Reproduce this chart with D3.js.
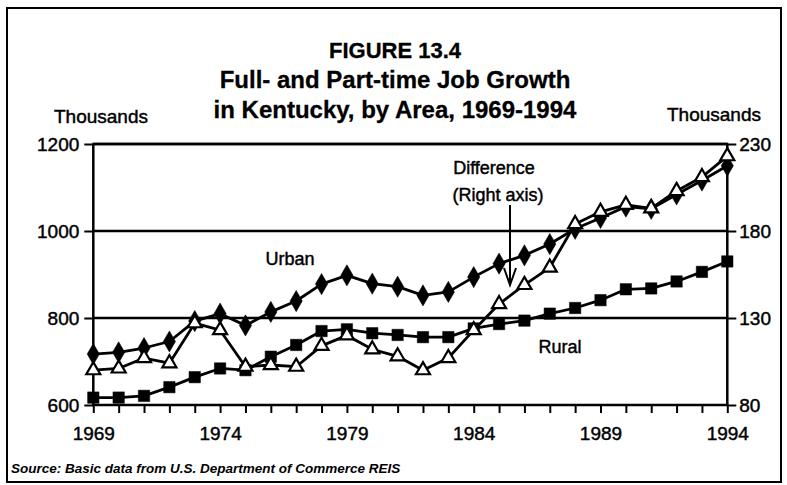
<!DOCTYPE html>
<html>
<head>
<meta charset="utf-8">
<script src="https://cdn.jsdelivr.net/npm/d3@7"></script>
<style>
  html, body { margin: 0; padding: 0; background: #fff; }
  svg { display: block; }
  text { font-family: "Liberation Sans", Arial, Helvetica, sans-serif; fill: #000; }
</style>
</head>
<body>
<svg id="chart" width="787" height="485"></svg>
<script>
// ---- Data ----
const years = [1969,1970,1971,1972,1973,1974,1975,1976,1977,1978,1979,1980,1981,
               1982,1983,1984,1985,1986,1987,1988,1989,1990,1991,1992,1993,1994];
const urban = [717,721,731,746,793,810,783,814,839,878,898,879,872,
               852,860,894,925,944,970,1005,1030,1056,1051,1084,1116,1150];
const rural = [617,617,621,641,664,684,680,711,738,770,774,765,761,
               756,756,776,786,794,810,823,841,866,868,884,906,930];
const difference = [100,101,107,104,127,123,102,103,102,114,120,112,108,
                    100,107,123,138,149,159,184,191,195,193,203,211,223];
const leftTicks = [600,800,1000,1200];
const rightTicks = [80,130,180,230];
const xTickLabels = [1969,1974,1979,1984,1989,1994];
const titleLines = ["FIGURE 13.4", "Full- and Part-time Job Growth", "in Kentucky, by Area, 1969-1994"];

// ---- Layout ----
const svg = d3.select("#chart");
const L = 93.3, R = 727.3, T = 144, B = 405;
const thick = 0.45; // mimic heavy scanned type

const x = d3.scaleLinear().domain([1969, 1994]).range([L, R]);
const yL = d3.scaleLinear().domain([600, 1200]).range([B, T]);
const yR = d3.scaleLinear().domain([80, 230]).range([B, T]);

// outer border
svg.append("rect").attr("x", 7).attr("y", 8).attr("width", 774).attr("height", 474)
  .attr("fill", "none").attr("stroke", "#000").attr("stroke-width", 2);

// titles
svg.selectAll("text.title").data(titleLines).enter().append("text")
  .attr("class", "title")
  .attr("x", 395).attr("y", (d, i) => 58 + i * 30)
  .attr("text-anchor", "middle")
  .attr("font-weight", "bold")
  .attr("font-size", (d, i) => i === 0 ? 22 : 24)
  .attr("stroke", "#000").attr("stroke-width", 0.3)
  .text(d => d);

svg.append("text").attr("x", 101).attr("y", 123).attr("text-anchor", "middle")
  .attr("font-size", 19).attr("stroke", "#000").attr("stroke-width", thick).text("Thousands");
svg.append("text").attr("x", 714).attr("y", 121).attr("text-anchor", "middle")
  .attr("font-size", 19).attr("stroke", "#000").attr("stroke-width", thick).text("Thousands");

// gridlines (horizontal)
const g = svg.append("g");
g.selectAll("line.grid").data(leftTicks.filter(d => d > 600)).enter().append("line")
  .attr("x1", L).attr("x2", R).attr("y1", d => yL(d)).attr("y2", d => yL(d))
  .attr("stroke", "#000").attr("stroke-width", 2.5);

// axes
const axisStyle = sel => {
  sel.select(".domain").remove();
  sel.selectAll(".tick line").attr("stroke", "#000").attr("stroke-width", 2);
  sel.selectAll(".tick text").attr("font-size", 19).attr("fill", "#000")
     .attr("stroke", "#000").attr("stroke-width", thick)
     .attr("font-family", "Liberation Sans, Arial, sans-serif");
};

svg.append("g").attr("transform", `translate(${L},0)`)
  .call(d3.axisLeft(yL).tickValues(leftTicks).tickSize(9).tickPadding(5).tickFormat(d3.format("d")))
  .call(axisStyle);

svg.append("g").attr("transform", `translate(${R},0)`)
  .call(d3.axisRight(yR).tickValues(rightTicks).tickSize(9).tickPadding(3).tickFormat(d3.format("d")))
  .call(axisStyle);

const xAxis = svg.append("g").attr("transform", `translate(0,${B})`)
  .call(d3.axisBottom(x).tickValues(years).tickSize(8).tickPadding(14)
        .tickFormat(d => xTickLabels.includes(d) ? d : ""))
  .call(axisStyle);
xAxis.selectAll(".tick text").attr("dy", "0.71em");

// axis lines
svg.append("line").attr("x1", L).attr("x2", L).attr("y1", T).attr("y2", B)
  .attr("stroke", "#000").attr("stroke-width", 2.5);
svg.append("line").attr("x1", R).attr("x2", R).attr("y1", T).attr("y2", B)
  .attr("stroke", "#000").attr("stroke-width", 2.5);
svg.append("line").attr("x1", L - 1).attr("x2", R + 1).attr("y1", B).attr("y2", B)
  .attr("stroke", "#000").attr("stroke-width", 2.5);
svg.append("line").attr("x1", L - 1).attr("x2", R + 1).attr("y1", T).attr("y2", T)
  .attr("stroke", "#000").attr("stroke-width", 2.5);

// series
const lineL = d3.line().x((d, i) => x(years[i])).y(d => yL(d));
const lineR = d3.line().x((d, i) => x(years[i])).y(d => yR(d));

function drawSeries(values, lineGen, yScale, symbolType, filled, size) {
  const s = svg.append("g");
  s.append("path").datum(values).attr("d", lineGen)
    .attr("fill", "none").attr("stroke", "#000").attr("stroke-width", 2.8)
    .attr("stroke-linejoin", "round");
  s.selectAll("path.pt").data(values).enter().append("path")
    .attr("class", "pt")
    .attr("transform", (d, i) => `translate(${x(years[i])},${yScale(d)})`)
    .attr("d", d3.symbol().type(symbolType).size(size))
    .attr("fill", filled ? "#000" : "#fff")
    .attr("stroke", "#000").attr("stroke-width", filled ? 0.5 : 2.2);
}

drawSeries(rural, lineL, yL, d3.symbolSquare, true, 130);
drawSeries(urban, lineL, yL, d3.symbolDiamond, true, 130);
drawSeries(difference, lineR, yR, d3.symbolTriangle, false, 85);

// annotations
const ann = (tx, ty, s) => svg.append("text").attr("x", tx).attr("y", ty)
  .attr("text-anchor", "middle").attr("font-size", 18)
  .attr("stroke", "#000").attr("stroke-width", thick).text(s);
ann(290, 265, "Urban");
ann(560, 353, "Rural");
ann(494, 174, "Difference");
ann(498, 201, "(Right axis)");

// arrow
const ax = 510;
svg.append("line").attr("x1", ax).attr("x2", ax).attr("y1", 205).attr("y2", 285)
  .attr("stroke", "#000").attr("stroke-width", 2);
svg.append("path").attr("d", `M${ax - 6},${268} L${ax},${285} L${ax + 6},${268}`)
  .attr("fill", "none").attr("stroke", "#000").attr("stroke-width", 2);

// source
svg.append("text").attr("x", 11).attr("y", 473)
  .attr("font-size", 13.5).attr("font-style", "italic").attr("font-weight", "bold")
  .text("Source: Basic data from U.S. Department of Commerce REIS");
</script>
</body>
</html>
